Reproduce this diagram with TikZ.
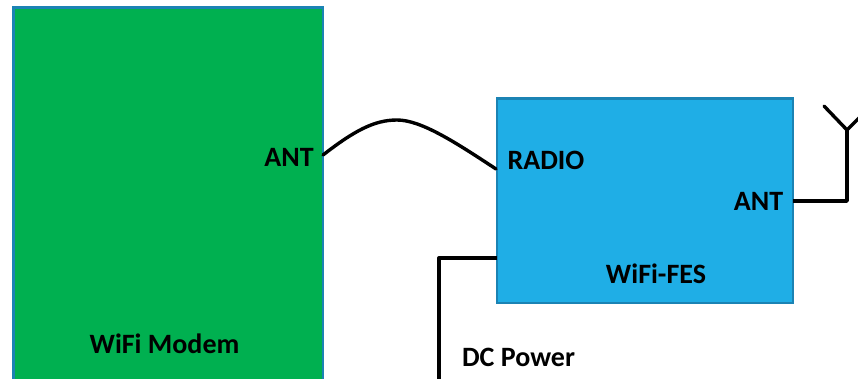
\documentclass[tikz,border=0pt]{standalone}
\usepackage{fontspec}
\setmainfont{Carlito}
\definecolor{modemgreen}{HTML}{00B050}
\definecolor{fesblue}{HTML}{1FAEE6}
\definecolor{boxedge}{HTML}{1B83B4}
\tikzset{
  x=1pt,y=-1pt,
  blockbox/.style={draw=boxedge,line width=2.2pt,anchor=north west,inner sep=0pt,outer sep=0pt},
  lbl/.style={font=\bfseries\fontsize{28}{32}\selectfont,text=black,inner sep=0pt,anchor=base},
  wire/.style={draw=black,line width=3.4pt,line join=round,line cap=round}
}
\begin{document}
\begin{tikzpicture}
\useasboundingbox (0,0) rectangle (858,379);
\clip (0,0) rectangle (858,379);
\node[blockbox,fill=modemgreen,minimum width=309.5pt,minimum height=400pt] (modem) at (13.5,7.5) {};
\node[blockbox,fill=fesblue,minimum width=296pt,minimum height=204.5pt] (fes) at (497,98.5) {};
\node[lbl] (modemname) at (164.5,353.5) {WiFi Modem};
\node[lbl] (antl) at (289,167) {ANT};
\node[lbl] (radio) at (546,170) {RADIO};
\node[lbl] (antr) at (758.5,211) {ANT};
\node[lbl] (fesname) at (656,283) {WiFi-FES};
\node[lbl] (dc) at (518.5,366) {DC Power};
\coordinate (modemant) at (323,155);
\coordinate (fesradio) at (496,169);
\coordinate (fesant) at (793,201);
\coordinate (fesdc) at (497,258);
\coordinate (dccorner) at (439,258);
\coordinate (dcend) at (439,395);
\coordinate (antfoot) at (847,201);
\coordinate (antfork) at (847,130);
\coordinate (antleft) at (824,106);
\coordinate (antright) at (871,106);
\draw[wire] (modemant) .. controls (354,131) and (374,120) .. (397,120)
  .. controls (421,120) and (455,142) .. (fesradio);
\draw[wire,line cap=butt] (fesdc) -- (dccorner) -- (dcend);
\draw[wire,line cap=butt] (fesant) -- (antfoot) -- (antfork);
\draw[wire] (antleft) -- (antfork) -- (antright);
\end{tikzpicture}
\end{document}
